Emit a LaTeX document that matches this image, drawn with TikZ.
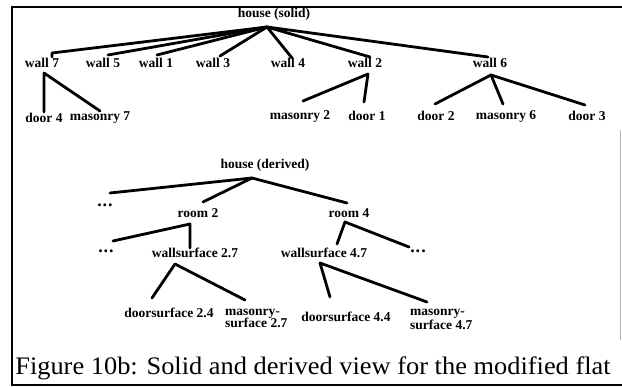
\documentclass[tikz,border=0pt]{standalone}
\usepackage{fontspec}
\setmainfont{Liberation Serif}
\usepackage{graphicx}
\begin{document}
\begin{tikzpicture}[x=1pt,y=-1pt,
  lbl/.style={inner sep=0pt,font=\fontsize{13.5}{13.5}\selectfont\bfseries},
  lblL/.style={lbl,anchor=west,align=left},
  dots/.style={inner sep=0pt,font=\fontsize{18}{18}\selectfont\bfseries},
  edge/.style={line width=2.8pt,line cap=round,line join=round},
  frameline/.style={line width=1.8pt}]
\useasboundingbox (0,0) rectangle (622,387);

% outer frame
\coordinate (fTL) at (12,7);
\coordinate (fTR) at (622,7);
\coordinate (fBL) at (12,385);
\coordinate (fBR) at (622,385);
\draw[frameline] (fTR) -- (fTL) -- (fBL) -- (fBR);
\draw[gray!60,line width=0.8pt] (620,130) -- (620,340);

% ---------- solid view ----------
\node[lbl] (hs) at (274,14) {house (solid)};
\node[lbl] (w7) at (42,63) {wall 7};
\node[lbl] (w5) at (103,63) {wall 5};
\node[lbl] (w1) at (156,63) {wall 1};
\node[lbl] (w3) at (213,63) {wall 3};
\node[lbl] (w4) at (288,63) {wall 4};
\node[lbl] (w2) at (365,63) {wall 2};
\node[lbl] (w6) at (490,63) {wall 6};
\node[lbl] (d4) at (44,118) {door 4};
\node[lbl] (m7) at (100,118) {masonry 7};
\node[lbl] (m2) at (300,116) {masonry 2};
\node[lbl] (d1) at (367,116) {door 1};
\node[lbl] (d2) at (436,116) {door 2};
\node[lbl] (m6) at (506,116) {masonry 6};
\node[lbl] (d3) at (587,116) {door 3};

\coordinate (hsB) at (267,27);
\coordinate (w7T) at (52,53);
\coordinate (w5T) at (108,55);
\coordinate (w1T) at (157,55);
\coordinate (w3T) at (220,56);
\coordinate (w4T) at (292,58);
\coordinate (w2T) at (370,57);
\coordinate (w6T) at (488,57);
\draw[edge] (hsB) -- (w7T) -- ++(0,4);
\foreach \c in {w5T,w1T,w3T,w4T,w2T,w6T} \draw[edge] (hsB) -- (\c);

\coordinate (w7B) at (44,73);
\coordinate (d4T) at (44,112);
\coordinate (m7T) at (100,111);
\draw[edge] (d4T) -- (w7B) -- (m7T);

\coordinate (w2B) at (368,74);
\coordinate (m2T) at (303,101);
\coordinate (d1T) at (364,102);
\draw[edge] (m2T) -- (w2B) -- (d1T);

\coordinate (w6B) at (491,75);
\coordinate (d2T) at (435,104);
\coordinate (m6T) at (503,104);
\coordinate (d3T) at (585,105);
\draw[edge] (d2T) -- (w6B) -- (d3T);
\draw[edge] (w6B) -- (m6T);

% ---------- derived view ----------
\node[lbl] (hd) at (265,165) {house (derived)};
\node[dots] (e1) at (105,205) {.\kern1pt.\kern1pt.};
\node[lbl] (r2) at (198,213) {room 2};
\node[lbl] (r4) at (349,213) {room 4};
\node[dots] (e2) at (106,251) {.\kern1pt.\kern1pt.};
\node[lbl] (s27) at (195,253) {wallsurface 2.7};
\node[lbl] (s47) at (324,253) {wallsurface 4.7};
\node[dots] (e3) at (418,251) {.\kern1pt.\kern1pt.};
\node[lbl] (ds24) at (169,313) {doorsurface 2.4};
\node[lblL] (ms27) at (225,318.5) {masonry-\\[-1pt]surface 2.7};
\node[lbl] (ds44) at (346,317) {doorsurface 4.4};
\node[lblL] (ms47) at (410,319.5) {masonry-\\[0.5pt]surface 4.7};

\coordinate (hdB) at (252,178);
\coordinate (e1T) at (110,193);
\coordinate (r2T) at (203,202);
\coordinate (r4T) at (347,203);
\draw[edge] (e1T) -- (hdB) -- (r4T);
\draw[edge] (hdB) -- (r2T);

\coordinate (r2B) at (190,224);
\coordinate (e2T) at (113,241);
\coordinate (s27T) at (190,248);
\draw[edge] (e2T) -- (r2B) -- (s27T);

\coordinate (r4B) at (345,222);
\coordinate (s47T) at (337,244);
\coordinate (e3T) at (409,247);
\draw[edge] (s47T) -- (r4B) -- (e3T);

\coordinate (s27B) at (175,264);
\coordinate (ds24T) at (152,298);
\coordinate (ms27T) at (245,300);
\draw[edge] (ds24T) -- (s27B) -- (ms27T);

\coordinate (s47B) at (320,263);
\coordinate (ds44T) at (330,297);
\coordinate (ms47T) at (427,302);
\draw[edge] (ds44T) -- (s47B) -- (ms47T);

% caption
\node[inner sep=0pt] (cap) at (313,368.5)
  {\scalebox{1.1}[1.05]{\fontsize{24}{26}\selectfont Figure 10b: Solid and derived view for the modified flat}};
\end{tikzpicture}
\end{document}
